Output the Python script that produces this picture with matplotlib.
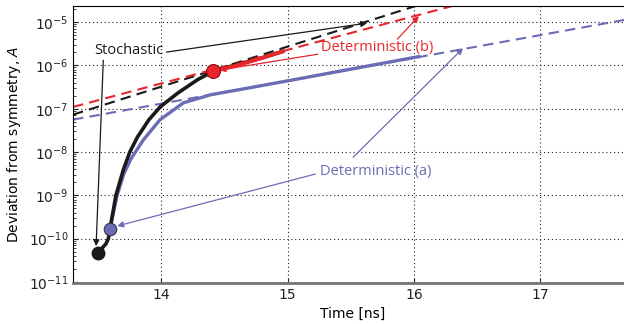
import numpy as np
import matplotlib
matplotlib.use('Agg')
import matplotlib.pyplot as plt

# stochastic run (black)
stoch_t = [13.50, 13.53, 13.56, 13.58, 13.60, 13.64, 13.70, 13.75, 13.81, 13.90,
           13.99, 14.13, 14.29, 14.41, 14.60, 14.80, 14.96]
stoch_a = [4.6e-11, 6.0e-11, 7.5e-11, 1.0e-10, 2.2e-10, 1.0e-9, 4.0e-9, 1.0e-8, 2.2e-8,
           5.5e-8, 1.1e-7, 2.3e-7, 4.75e-7, 7.3e-7, 1.05e-6, 1.5e-6, 2.1e-6]

# deterministic (a), blue
det_a_t = [13.594, 13.62, 13.65, 13.70, 13.76, 13.857, 13.99, 14.175, 14.39, 14.63,
           15.0, 15.5, 16.04]
det_a_a = [1.7e-10, 4.0e-10, 1.0e-9, 3.0e-9, 7.0e-9, 1.9e-8, 5.6e-8, 1.37e-7, 2.1e-7,
           2.8e-7, 4.4e-7, 8.2e-7, 1.6e-6]

# deterministic (b), red
det_b_t = [14.41, 14.60, 14.80, 14.96]
det_b_a = [7.3e-7, 1.0e-6, 1.5e-6, 2.1e-6]

# exponential fits (dashed)
fit_stoch_t = [13.3, 16.2]
fit_stoch_a = [7.3e-8, 3.5e-5]
fit_b_t = [13.3, 16.6]
fit_b_a = [1.1e-7, 4.0e-5]
fit_a_t = [13.3, 17.7]
fit_a_a = [5.6e-8, 1.17e-5]

BLACK = '#1a1a1a'
RED = '#e8262b'
BLUE = '#6a6db6'

plt.rcParams['font.family'] = ['DejaVu Sans']

fig = plt.figure(figsize=(6.24, 3.24), dpi=100)
ax = fig.add_axes([0.117, 0.127, 0.886, 0.854])

ax.semilogy(fit_a_t, fit_a_a, '--', color=BLUE, lw=1.5, dashes=(5, 3))
ax.semilogy(fit_stoch_t, fit_stoch_a, '--', color=BLACK, lw=1.5, dashes=(5, 3))
ax.semilogy(fit_b_t, fit_b_a, '--', color=RED, lw=1.5, dashes=(5, 3))

ax.semilogy(det_a_t, det_a_a, '-', color=BLUE, lw=2.4)
ax.semilogy(stoch_t, stoch_a, '-', color=BLACK, lw=2.6)
ax.semilogy(det_b_t, det_b_a, '-', color=RED, lw=2.8)

ax.plot(stoch_t[0], stoch_a[0], 'o', color=BLACK, ms=9, zorder=5)
ax.plot(det_a_t[0], det_a_a[0], 'o', color=BLUE, mec='#333355', mew=0.8, ms=9, zorder=5)
ax.plot(det_b_t[0], det_b_a[0], 'o', color=RED, mec='#8a1010', mew=0.8, ms=10, zorder=5)

ax.set_xlim(13.3, 17.68)
ax.set_ylim(9.5e-12, 2.34e-5)
ax.set_xticks([14, 15, 16, 17])
ax.set_yticks([1e-11, 1e-10, 1e-9, 1e-8, 1e-7, 1e-6, 1e-5])
ax.grid(True, which='major', linestyle=(0, (1, 2.5)), color='#222222', lw=0.8)
ax.tick_params(direction='in', which='both', labelsize=10, colors='#222222')
ax.tick_params(axis='y', which='minor', length=2)
ax.spines['right'].set_visible(False)
ax.spines['bottom'].set_color('#777777')
ax.spines['bottom'].set_linewidth(2)
ax.set_xlabel('Time [ns]', fontsize=10)
ax.xaxis.set_label_coords(0.505, -0.085)
ax.set_ylabel('Deviation from symmetry, $A$', fontsize=10)

arrow = dict(arrowstyle='-|>', mutation_scale=9, shrinkA=0, shrinkB=0)

ax.text(13.74, 2.25e-6, 'Stochastic', color=BLACK, fontsize=10.5,
        family=['Open Sans', 'DejaVu Sans'], ha='center', va='center')
ax.annotate('', xy=(15.63, 9.5e-6), xytext=(14.04, 2.03e-6),
            arrowprops=dict(arrow, color=BLACK, lw=0.9))
ax.annotate('', xy=(13.483, 6.7e-11), xytext=(13.54, 1.32e-6),
            arrowprops=dict(arrow, color=BLACK, lw=0.9))

ax.text(15.71, 2.65e-6, 'Deterministic (b)', color=RED, fontsize=10.5,
        family=['Open Sans', 'DejaVu Sans'], ha='center', va='center')
ax.annotate('', xy=(14.46, 7.8e-7), xytext=(15.24, 1.82e-6),
            arrowprops=dict(arrow, color=RED, lw=0.9))
ax.annotate('', xy=(16.04, 1.38e-5), xytext=(15.87, 4.05e-6),
            arrowprops=dict(arrow, color=RED, lw=0.9))

ax.text(15.70, 3.6e-9, 'Deterministic (a)', color=BLUE, fontsize=10.5,
        family=['Open Sans', 'DejaVu Sans'], ha='center', va='center')
ax.annotate('', xy=(13.65, 1.95e-10), xytext=(15.22, 3.1e-9),
            arrowprops=dict(arrow, color=BLUE, lw=0.9))
ax.annotate('', xy=(16.39, 2.5e-6), xytext=(15.52, 7.6e-9),
            arrowprops=dict(arrow, color=BLUE, lw=0.9))

fig.savefig('out.png', dpi=100)
